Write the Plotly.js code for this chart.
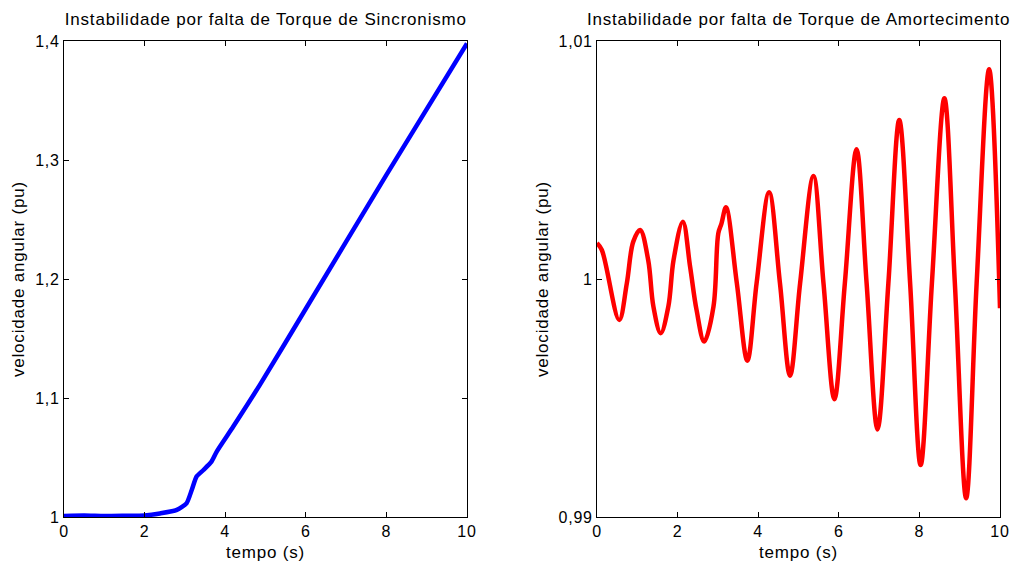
<!DOCTYPE html>
<html>
<head>
<meta charset="utf-8">
<script src="https://cdn.plot.ly/plotly-3.0.1.min.js"></script>
<style>
html,body{margin:0;padding:0;background:#fff;}
#chart{width:1019px;height:568px;}
#chart text{letter-spacing:0.8px;}
</style>
</head>
<body>
<div id="chart"></div>
<script>
// Left: Instabilidade por falta de Torque de Sincronismo
const tempoSinc = [0, 0.5, 1.0, 1.5, 2.0, 2.38, 2.8, 3.04, 3.17, 3.29, 3.46, 3.66, 3.79, 4.2, 4.86, 6.0, 8.0, 10.0];
const velSinc   = [1.0008, 1.0012, 1.0008, 1.0010, 1.0013, 1.003, 1.006, 1.0115, 1.0227, 1.034, 1.0395, 1.0465, 1.055, 1.076, 1.111, 1.175, 1.2875, 1.398];

// Right: Instabilidade por falta de Torque de Amortecimento
const tempoAmort = [0, 0.12, 0.55, 0.74, 0.90, 1.07, 1.27, 1.40, 1.58, 1.77, 1.90, 2.13, 2.31, 2.47, 2.66, 2.89, 3.01, 3.09, 3.20, 3.47, 3.73, 3.96, 4.27, 4.54, 4.79, 5.04, 5.37, 5.62, 5.89, 6.15, 6.44, 6.69, 6.96, 7.23, 7.50, 7.77, 8.03, 8.31, 8.62, 8.88, 9.16, 9.42, 9.73, 10.0];
const velAmort   = [1.00151, 1.00122, 0.99828, 0.99982, 1.00157, 1.00206, 1.0008, 0.99884, 0.99772, 0.99884, 1.0008, 1.00241, 1.00052, 0.9987, 0.99737, 0.99884, 1.00192, 1.00234, 1.00301, 0.99982, 0.99657, 0.99982, 1.00364, 0.99982, 0.99594, 0.99982, 1.00433, 0.99982, 0.99495, 0.99982, 1.00545, 0.99982, 0.99368, 0.99982, 1.00668, 0.99982, 0.99218, 0.99982, 1.00759, 0.99982, 0.99079, 0.99982, 1.00881, 0.99877];

const xTicks = [0, 2, 4, 6, 8, 10];
const yTicksSinc = [1, 1.1, 1.2, 1.3, 1.4];
const yTicksAmort = [0.99, 1, 1.01];

const titles = ['Instabilidade por falta de Torque de Sincronismo', 'Instabilidade por falta de Torque de Amortecimento'];
const xLabel = 'tempo (s)';
const yLabel = 'velocidade angular (pu)';

const W = 1019, H = 568;
const fam = 'Liberation Sans, Arial, sans-serif';
const tickFont = {family: fam, size: 16, color: '#000'};
const titleFont = {family: fam, size: 17, color: '#000'};

const axisCommon = {
  showgrid: false, zeroline: false, showline: true, linecolor: '#000', linewidth: 1,
  mirror: 'ticks', ticks: 'inside', ticklen: 5, tickcolor: '#000',
  tickfont: tickFont
};

const yDom = [1 - 517 / H, 1 - 41 / H];
const x1Dom = [64 / W, 467 / W];
const x2Dom = [597 / W, 1000 / W];

const traces = [
  {x: tempoSinc, y: velSinc, type: 'scatter', mode: 'lines', line: {color: '#0000ff', width: 4.5, shape: 'spline', smoothing: 0.6}, xaxis: 'x', yaxis: 'y', hoverinfo: 'none'},
  {x: tempoAmort, y: velAmort, type: 'scatter', mode: 'lines', line: {color: '#ff0000', width: 4.5, shape: 'spline', smoothing: 1}, xaxis: 'x2', yaxis: 'y2', hoverinfo: 'none'}
];

const layout = {
  width: W, height: H,
  margin: {l: 0, r: 0, t: 0, b: 0},
  paper_bgcolor: '#fff', plot_bgcolor: '#fff',
  separators: ',.',
  showlegend: false,
  font: titleFont,
  xaxis: Object.assign({}, axisCommon, {domain: x1Dom, range: [0, 10], tickvals: xTicks, anchor: 'y', title: {text: xLabel, font: titleFont, standoff: 6}}),
  yaxis: Object.assign({}, axisCommon, {domain: yDom, range: [1, 1.4], tickvals: yTicksSinc, anchor: 'x', title: {text: yLabel, font: titleFont, standoff: 8}}),
  xaxis2: Object.assign({}, axisCommon, {domain: x2Dom, range: [0, 10], tickvals: xTicks, anchor: 'y2', title: {text: xLabel, font: titleFont, standoff: 6}}),
  yaxis2: Object.assign({}, axisCommon, {domain: yDom, range: [0.99, 1.01], tickvals: yTicksAmort, anchor: 'x2', title: {text: yLabel, font: titleFont, standoff: 8}}),
  annotations: [
    {text: titles[0], xref: 'x domain', yref: 'paper', x: 0.5, y: 1 - 20 / H, xanchor: 'center', yanchor: 'middle', showarrow: false, font: titleFont},
    {text: titles[1], xref: 'x2 domain', yref: 'paper', x: 0.5, y: 1 - 20 / H, xanchor: 'center', yanchor: 'middle', showarrow: false, font: titleFont}
  ]
};

Plotly.newPlot('chart', traces, layout, {staticPlot: true, displayModeBar: false});
</script>
</body>
</html>
